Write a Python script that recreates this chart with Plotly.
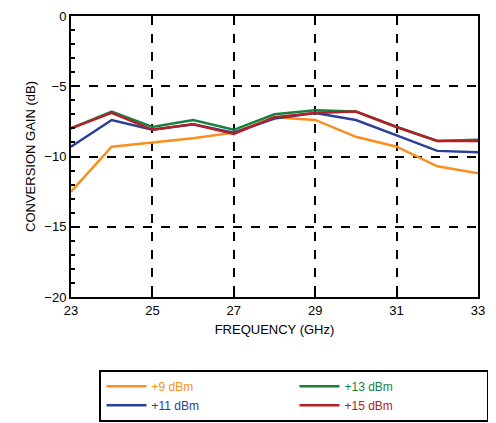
import plotly.graph_objects as go

freq = [23, 24, 25, 26, 27, 28, 29, 30, 31, 32, 33]
gain_9 = [-12.5, -9.3, -9.0, -8.7, -8.3, -7.2, -7.4, -8.6, -9.3, -10.7, -11.2]
gain_11 = [-9.3, -7.4, -8.1, -7.7, -8.3, -7.3, -6.9, -7.4, -8.5, -9.6, -9.7]
gain_13 = [-8.0, -6.8, -7.9, -7.4, -8.1, -7.0, -6.7, -6.8, -7.9, -8.9, -8.8]
gain_15 = [-8.0, -6.9, -8.1, -7.7, -8.4, -7.2, -6.9, -6.8, -7.9, -8.9, -8.9]

# legend order fills rows: +9, +13 / +11, +15
series = [
    ("+9 dBm", gain_9, "#f7901e"),
    ("+13 dBm", gain_13, "#17803f"),
    ("+11 dBm", gain_11, "#2b3f97"),
    ("+15 dBm", gain_15, "#b22028"),
]

fig = go.Figure()
for name, vals, col in series:
    fig.add_trace(go.Scatter(
        x=freq, y=vals, mode="lines", line=dict(color=col, width=2.5),
        name=f"<span style='color:{col}'>{name}</span>"))

axis_common = dict(showline=True, linecolor="black", linewidth=2, mirror=True,
                   ticks="inside", tickcolor="black", ticklen=6, tickwidth=1.5,
                   showgrid=True, gridcolor="black", griddash="dash", gridwidth=1.5,
                   zeroline=False, tickfont=dict(size=13, color="black"),
                   title_font=dict(size=13, color="black"))

fig.update_xaxes(range=[23, 33], tick0=23, dtick=2, title_text="FREQUENCY (GHz)",
                 title_standoff=8, **axis_common)
fig.update_yaxes(range=[-20, 0], dtick=5, title_text="CONVERSION GAIN (dB)",
                 title_standoff=6, minor=dict(dtick=1, ticks="inside", ticklen=4,
                                              tickcolor="black", showgrid=False),
                 **axis_common)

fig.update_layout(
    width=496, height=423,
    margin=dict(l=63, r=26, t=8, b=134, autoexpand=False),
    plot_bgcolor="white", paper_bgcolor="white",
    font=dict(family="Liberation Sans, Arial, sans-serif", size=13, color="black"),
    legend=dict(orientation="h", yref="container", x=0.07, xanchor="left",
                y=0.145, yanchor="top",
                bordercolor="black", borderwidth=2, entrywidthmode="pixels",
                entrywidth=138, font=dict(size=12), itemwidth=40),
)

fig.write_html("out.html")
